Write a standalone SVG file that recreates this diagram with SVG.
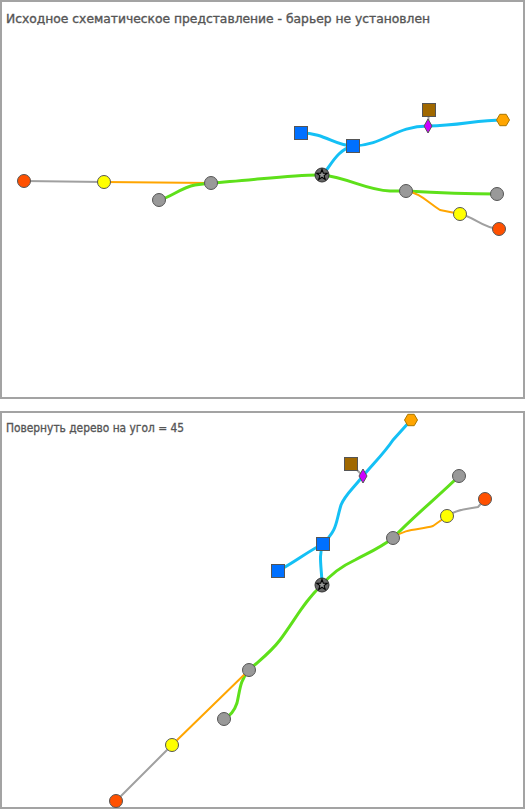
<svg xmlns="http://www.w3.org/2000/svg" width="526" height="810" viewBox="0 0 526 810">
<defs>
<style>
.panel{fill:#fff;stroke:#a3a3a3;stroke-width:2}
.title{font-family:"DejaVu Sans",Verdana,sans-serif;font-size:12px;fill:#555;stroke:#555;stroke-width:0.35}
.e{fill:none;stroke-linecap:round;stroke-linejoin:round}
.g{stroke:#5ee01a;stroke-width:3}
.b{stroke:#14c0f5;stroke-width:3}
.o{stroke:#ffa500;stroke-width:2}
.y{stroke:#a0a0a0;stroke-width:2}
.n{stroke:#555;stroke-width:1}
.gray{fill:#999}
.yel{fill:#ffff00}
.red{fill:#ff5000}
.blue{fill:#0070ff}
.brown{fill:#a06800}
.purple{fill:#cc00ff}
.hex{fill:#ffa500;stroke:#aa7700}
</style>
<g id="star">
<circle r="7" fill="#666" stroke="#333"/>
<polygon points="0,-5.5 1.3,-1.8 5.2,-1.7 2.1,0.6 3.2,4.4 0,2.2 -3.2,4.4 -2.1,0.6 -5.2,-1.7 -1.3,-1.8" fill="#999" stroke="#000" stroke-width="1.1"/>
</g>
</defs>
<rect class="panel" x="1" y="1" width="523" height="397"/>
<rect class="panel" x="1" y="412" width="523" height="396"/>
<text class="title" x="6" y="23" textLength="424" lengthAdjust="spacingAndGlyphs">Исходное схематическое представление - барьер не установлен</text>
<text class="title" x="6" y="432" textLength="178" lengthAdjust="spacingAndGlyphs">Повернуть дерево на угол = 45</text>

<g id="connectors">
<!-- top panel -->
<path class="e y" d="M24,181 L104,182"/>
<path class="e o" d="M104,182 L211,183"/>
<path class="e g" d="M159,200 C172,197 180,188 195,185 L211,183"/>
<path class="e g" d="M211,183 C250,181 295,174 322,175"/>
<path class="e g" d="M322,175 C350,178 365,190 390,191 L406,191"/>
<path class="e g" d="M406,191 C440,193 470,194 497,194"/>
<path class="e o" d="M406,191 C420,193 425,200 440,210 L460,214"/>
<path class="e y" d="M460,214 C475,217 482,228 499,229"/>
<path class="e b" d="M322,175 C330,168 336,150 353,146"/>
<path class="e b" d="M301,133 C325,133 335,146 353,146"/>
<path class="e b" d="M353,146 C385,145 395,126 428,126 C460,126 475,120 503,120"/>
<path class="e y" d="M429,110 L428,126"/>
<!-- bottom panel -->
<path class="e b" d="M411,420 L393,440 C385,452 375,462 363,476"/>
<path class="e b" d="M363,476 C350,492 345,495 341,505 C335,525 338,528 323,544"/>
<path class="e b" d="M323,544 C310,550 295,562 278,571"/>
<path class="e b" d="M323,544 C318,555 322,570 322,585"/>
<path class="e y" d="M351,464 L363,476"/>
<path class="e g" d="M459,476 C440,495 415,515 393,538"/>
<path class="e g" d="M393,538 C380,548 370,552 355,560 C340,567 330,575 322,585"/>
<path class="e g" d="M322,585 C305,600 295,620 280,640 C270,653 260,660 249,670"/>
<path class="e g" d="M249,670 C240,680 240,690 237,703 C234,712 230,716 224,719"/>
<path class="e o" d="M393,538 C405,528 420,530 433,526 L447,516"/>
<path class="e y" d="M447,516 C458,508 470,509 478,507 L485,499"/>
<path class="e o" d="M249,670 L172,745"/>
<path class="e y" d="M172,745 L116,801"/>
</g>

<!-- top panel nodes -->
<g id="t-red1"><circle class="n red" cx="24" cy="181" r="6.5"/></g>
<g id="t-yel1"><circle class="n yel" cx="104" cy="182" r="6.5"/></g>
<g id="t-gray1"><circle class="n gray" cx="211" cy="183" r="6.5"/></g>
<g id="t-gray2"><circle class="n gray" cx="159" cy="200" r="6.5"/></g>
<g id="t-star"><use href="#star" x="322" y="175"/></g>
<g id="t-sq1"><rect class="n blue" x="294.5" y="126.5" width="13" height="13"/></g>
<g id="t-sq2"><rect class="n blue" x="346.5" y="139.5" width="13" height="13"/></g>
<g id="t-brown"><rect class="n brown" x="422.5" y="103.5" width="13" height="13"/></g>
<g id="t-diamond"><polygon class="n purple" points="428,119 432,126 428,133 424,126"/></g>
<g id="t-hex"><polygon class="hex" points="496.5,120 499.8,114.3 506.2,114.3 509.5,120 506.2,125.7 499.8,125.7"/></g>
<g id="t-gray3"><circle class="n gray" cx="406" cy="191" r="6.5"/></g>
<g id="t-gray4"><circle class="n gray" cx="497" cy="194" r="6.5"/></g>
<g id="t-yel2"><circle class="n yel" cx="460" cy="214" r="6.5"/></g>
<g id="t-red2"><circle class="n red" cx="499" cy="229" r="6.5"/></g>

<!-- bottom panel nodes -->
<g id="b-hex"><polygon class="hex" points="404.5,420 407.8,414.3 414.2,414.3 417.5,420 414.2,425.7 407.8,425.7"/></g>
<g id="b-brown"><rect class="n brown" x="344.5" y="457.5" width="13" height="13"/></g>
<g id="b-diamond"><polygon class="n purple" points="363,469 367,476 363,483 359,476"/></g>
<g id="b-gray1"><circle class="n gray" cx="459" cy="476" r="6.5"/></g>
<g id="b-red1"><circle class="n red" cx="485" cy="499" r="6.5"/></g>
<g id="b-yel1"><circle class="n yel" cx="447" cy="516" r="6.5"/></g>
<g id="b-sq2"><rect class="n blue" x="316.5" y="537.5" width="13" height="13"/></g>
<g id="b-gray2"><circle class="n gray" cx="393" cy="538" r="6.5"/></g>
<g id="b-sq1"><rect class="n blue" x="271.5" y="564.5" width="13" height="13"/></g>
<g id="b-star"><use href="#star" x="322" y="585"/></g>
<g id="b-gray3"><circle class="n gray" cx="249" cy="670" r="6.5"/></g>
<g id="b-gray4"><circle class="n gray" cx="224" cy="719" r="6.5"/></g>
<g id="b-yel2"><circle class="n yel" cx="172" cy="745" r="6.5"/></g>
<g id="b-red2"><circle class="n red" cx="116" cy="801" r="6.5"/></g>
</svg>
